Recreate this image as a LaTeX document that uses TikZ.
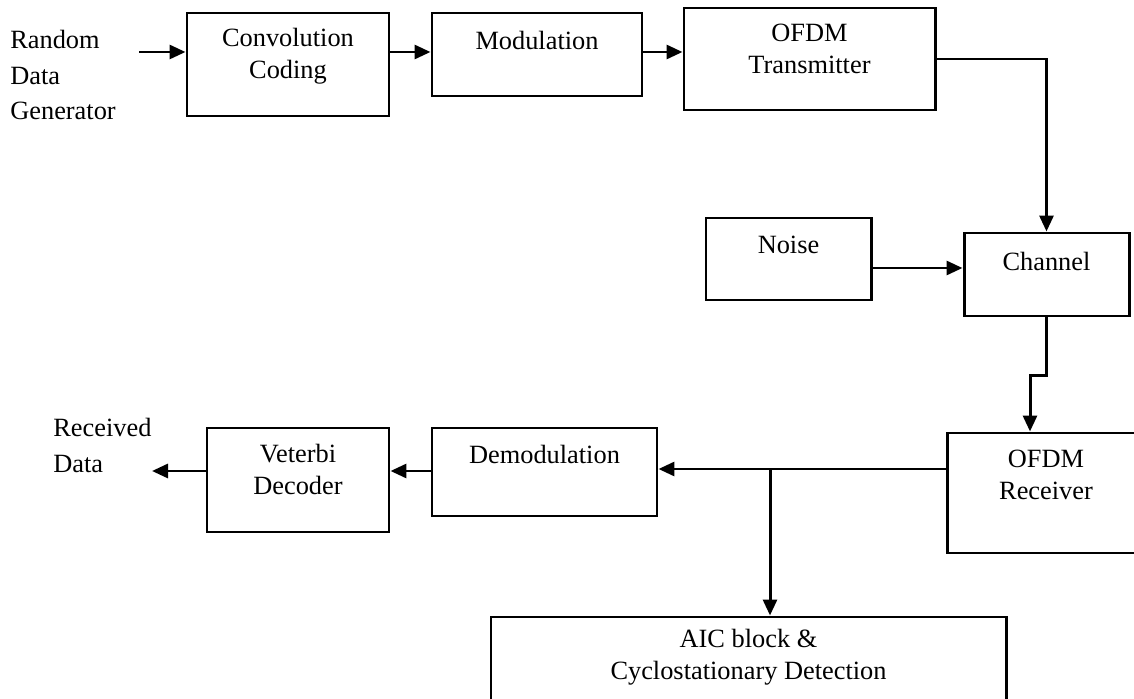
\documentclass[tikz,border=0pt]{standalone}
\usepackage{fontspec}
\setmainfont{Liberation Serif}
\usetikzlibrary{arrows.meta,positioning,calc}

\begin{document}
\begin{tikzpicture}[
  every node/.style={font=\fontsize{15}{18.2}\selectfont},
  block/.style={draw, line width=1.7pt, inner sep=0pt},
  txt/.style={align=center, inner sep=0pt},
  lbl/.style={align=left, anchor=west, inner sep=0pt,
              font=\fontsize{15}{20}\selectfont},
  arr/.style={-{Triangle[length=0.32cm,width=0.28cm]}, line width=1.7pt},
]
\useasboundingbox (0,0) rectangle (22.68,-13.98);
\clip (0,0) rectangle (22.68,-13.98);

% Transmit chain (top row)
\node[lbl] (gentxt) at (0.2,-1.5) {Random\\Data\\Generator};
\coordinate (gen) at (2.78,-1.04);
\node[block, minimum width=4.04cm, minimum height=2.06cm] (conv) at (5.76,-1.29) {};
\node[txt] at (5.76,-1.12) {Convolution\\Coding};
\node[block, minimum width=4.2cm, minimum height=1.66cm] (mod) at (10.74,-1.09) {};
\node[txt] at (10.74,-0.80) {Modulation};
\node[block, minimum width=5.02cm, minimum height=2.04cm] (ofdmtx) at (16.19,-1.18) {};
\node[txt] at (16.19,-0.98) {OFDM\\Transmitter};

% Channel with noise
\node[block, minimum width=3.3cm, minimum height=1.64cm] (noise) at (15.77,-5.18) {};
\node[txt] at (15.77,-4.90) {Noise};
\node[block, minimum width=3.3cm, minimum height=1.66cm] (channel) at (20.93,-5.49) {};
\node[txt] at (20.93,-5.22) {Channel};

% Receive chain (bottom row)
\node[block, minimum width=3.96cm, minimum height=2.4cm] (ofdmrx) at (20.92,-9.86) {};
\node[txt] at (20.92,-9.49) {OFDM\\Receiver};
\node[block, minimum width=4.5cm, minimum height=1.76cm] (demod) at (10.89,-9.44) {};
\node[txt] at (10.89,-9.08) {Demodulation};
\node[block, minimum width=3.64cm, minimum height=2.08cm] (viterbi) at (5.96,-9.60) {};
\node[txt] at (5.96,-9.38) {Veterbi\\Decoder};
\node[lbl] (rcvtxt) at (1.06,-8.91) {Received\\Data};
\coordinate (rcv) at (3.04,-9.42);

% Detection block
\node[block, minimum width=10.3cm, minimum height=2.06cm] (aic) at (14.97,-13.37) {};
\node[txt] at (14.97,-13.15) {AIC block \&\\Cyclostationary Detection};

% Connectors
\draw[arr] (gen) -- (gen -| conv.west);
\draw[arr] (conv.east |- gen) -- (mod.west |- gen);
\draw[arr] (mod.east |- gen) -- (ofdmtx.west |- gen);
\draw[arr, line join=miter] (ofdmtx.east) -| (channel.north);
\draw[arr] ([yshift=-0.18cm]noise.east) -- ([yshift=-0.18cm]noise.east -| channel.west);
\draw[arr, line join=miter] (channel.south) -- ++(0,-1.16) -| ([xshift=-0.32cm]ofdmrx.north);
\draw[arr] ([yshift=0.48cm]ofdmrx.west) -- ([yshift=0.48cm]ofdmrx.west -| demod.east);
\coordinate (split) at (15.40,-9.38);
\draw[arr] (split) -- (split |- aic.north);
\draw[arr] (demod.west |- rcv) -- (viterbi.east |- rcv);
\draw[arr] (viterbi.west |- rcv) -- (rcv);

\end{tikzpicture}
\end{document}
